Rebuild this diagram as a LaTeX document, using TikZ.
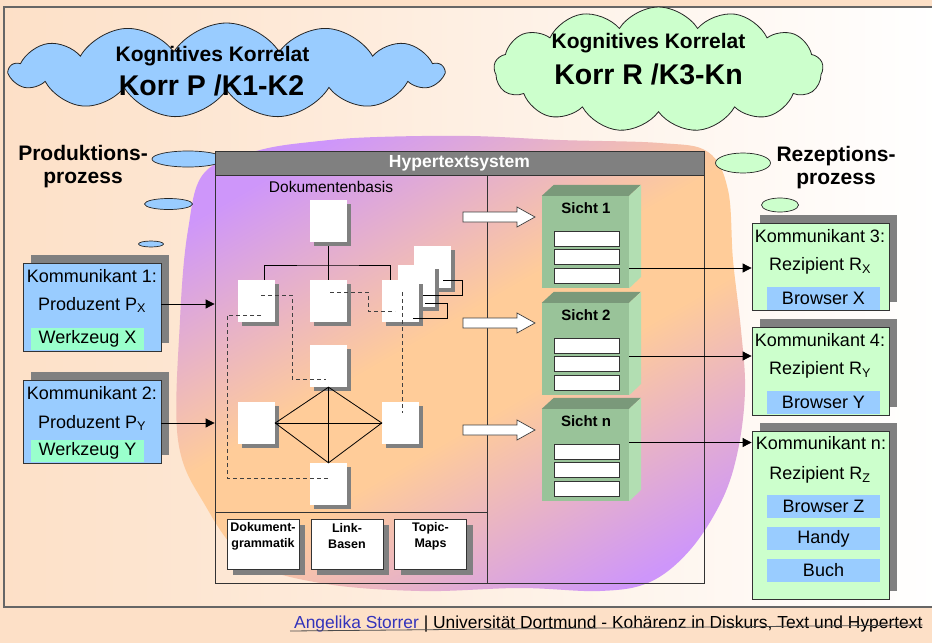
\documentclass[tikz,border=0pt]{standalone}
\usepackage{fontspec}
\setmainfont{Liberation Sans}
\usetikzlibrary{shapes.symbols,shapes.geometric,arrows.meta}
\usepackage{color}
\definecolor{pfirsich}{RGB}{253,224,199}
\definecolor{hellblau}{RGB}{153,204,255}
\definecolor{hellgruen}{RGB}{204,255,204}
\definecolor{tuerkis}{RGB}{153,255,204}
\definecolor{schatten}{RGB}{128,128,128}
\definecolor{lila}{RGB}{206,150,250}
\definecolor{orange1}{RGB}{255,204,153}
\definecolor{sichtvorn}{RGB}{153,195,153}
\definecolor{sichtoben}{RGB}{122,153,122}
\definecolor{sichtseite}{RGB}{178,222,178}
\definecolor{linkblau}{RGB}{51,51,187}

\pgfdeclarehorizontalshading{blobshade}{100bp}{color(0bp)=(lila); color(24bp)=(lila); color(46bp)=(orange1); color(56bp)=(orange1); color(78bp)=(lila); color(100bp)=(lila)}

\tikzset{
  wolke/.style={cloud, cloud puffs=13, cloud puff arc=115, draw=black!85, line width=0.8pt, inner sep=0},
  wolketext/.style={font=\fontsize{21}{24}\selectfont\bfseries, inner sep=0},
  wolkegross/.style={font=\fontsize{28.5}{32}\selectfont\bfseries, inner sep=0},
  blase/.style={ellipse, draw=black!85, line width=0.7pt, inner sep=0},
  prozess/.style={font=\fontsize{21}{23}\selectfont\bfseries, align=center, inner sep=0},
  komm/.style={draw=black!80, line width=0.8pt, inner sep=0},
  ktext/.style={font=\fontsize{18}{20}\selectfont, inner sep=0},
  werkzeug/.style={fill=tuerkis, minimum width=113, minimum height=22, inner sep=0, font=\fontsize{18}{20}\selectfont},
  browser/.style={fill=hellblau, minimum width=113, minimum height=23, inner sep=0, font=\fontsize{18}{20}\selectfont},
  dok/.style={fill=white, minimum width=37, minimum height=42, inner sep=0},
  basis/.style={draw=black!80, line width=0.8pt, fill=white, minimum width=72, minimum height=50, inner sep=0},
  basistext/.style={font=\fontsize{12.5}{16}\selectfont\bfseries, align=center, inner sep=0},
  sicht/.style={fill=sichtvorn, minimum width=87, minimum height=92, inner sep=0},
  sichttext/.style={font=\fontsize{15}{17}\selectfont\bfseries, inner sep=0},
  leiste/.style={draw=black!80, line width=0.7pt, fill=white, minimum width=65, minimum height=15, inner sep=0},
  pfeilblock/.style={fill=white, draw=black!75, line width=0.7pt},
  verb/.style={draw=black, line width=0.8pt, -{Triangle[length=9pt,width=9pt]}},
  baum/.style={draw=black, line width=0.8pt},
  link/.style={draw=black!75, line width=0.8pt, dash pattern=on 4pt off 3pt},
  rahmen/.style={draw=black!80, line width=0.8pt, minimum width=489, minimum height=408, inner sep=0},
}

\begin{document}
\begin{tikzpicture}[x=1pt,y=-1pt]
\useasboundingbox (0,0) rectangle (932,643);
%
% Hintergrund
\fill[pfirsich] (0,0) rectangle (932,643);
\draw[draw=black!60, line width=1.2pt, left color=pfirsich, right color=white] (4,7) rectangle (940,607);
%
% Blob hinter dem Hypertextsystem
\shade[shading=blobshade, shading angle=-60]
  plot[smooth cycle, tension=0.6] coordinates {(377,137) (470,136) (560,140) (660,143) (708,152) (728,190)
  (733,260) (741,330) (745,390) (738,450) (722,500) (690,550) (650,582) (600,591) (520,588) (420,591)
  (320,583) (248,560) (205,505) (178,440) (180,320) (188,230) (205,172) (260,150) (320,141)};
%
% Wolken
\node[wolke, fill=hellblau, minimum width=433, minimum height=95] (wolkeP) at (226.5,70.5) {};
\node[wolketext] (wolkeP1) at (212.5,56) {Kognitives Korrelat};
\node[wolkegross] (wolkeP2) at (211.5,85) {Korr P /K1-K2};
\node[wolke, fill=hellgruen, minimum width=329, minimum height=125] (wolkeR) at (658.5,69.5) {};
\node[wolketext] (wolkeR1) at (648.5,43) {Kognitives Korrelat};
\node[wolkegross] (wolkeR2) at (648.5,74) {Korr R /K3-Kn};
%
% Denkblasen
\node[blase, fill=hellblau, minimum width=72, minimum height=16] (bp1) at (188,159) {};
\node[blase, fill=hellblau, minimum width=48, minimum height=11] (bp2) at (168.5,204) {};
\node[blase, fill=hellblau, minimum width=25, minimum height=6] (bp3) at (151,244) {};
\node[blase, fill=hellgruen, minimum width=55, minimum height=20] (br1) at (743,163) {};
\node[blase, fill=hellgruen, minimum width=37, minimum height=14] (br2) at (780,205) {};
\node[prozess] (prod) at (83,167) {Produktions-\\prozess};
\node[prozess] (rez) at (836,168) {Rezeptions-\\prozess};
%
% Hypertextsystem
\node[rahmen] (hts) at (459.5,379) {};
\node[draw=black!80, line width=0.8pt, fill=schatten, minimum width=489, minimum height=24, inner sep=0,
  text=white, font=\fontsize{17.5}{20}\selectfont\bfseries] (kopf) at (459.5,163) {Hypertextsystem};
\coordinate (teil) at (487,175);
\coordinate (sockel) at (215,512);
\draw[draw=black!80, line width=0.8pt] (teil) -- (teil |- hts.south);
\draw[draw=black!80, line width=0.8pt] (sockel) -- (sockel -| teil);
\node[font=\fontsize{15.5}{18}\selectfont, inner sep=0] (dokbasis) at (331,187) {Dokumentenbasis};
%
% Baum
\coordinate (tj) at (328.5,265);
\draw[baum] (328.5,242) -- (tj);
\draw[baum] (264,280) |- (tj) -| (390,280);
\draw[baum] (tj) -- (328.5,280);
%
% Dokumente (mit Schatten)
\foreach \nm/\x/\y in {d0/328.5/221, d3c/432/267, d3b/416.5/286, d1/256.5/301, d2/328.5/301,
                       d3/400.5/301, d4/328.5/366, d5/256.5/423, d6/400.5/423, d7/328.5/484}{
  \fill[schatten] (\x-14.5,\y-17) rectangle (\x+22.5,\y+25);
  \node[dok] (\nm) at (\x,\y) {};
}
%
% Raute
\draw[baum] (d4.south) -- (d5.east) -- (d7.north) -- (d6.west) -- cycle;
\draw[baum] (d4.south) -- (d7.north);
\draw[baum] (d5.east) -- (d6.west);
%
% Stapel
\draw[baum] ([shift={(11,13)}]d3c.center) -- ++(19,0) |- ([shift={(6.5,9)}]d3b.center);
\draw[baum] ([shift={(8.5,17)}]d3b.center) -- ++(22,0) |- ([shift={(12.5,17)}]d3.center);
%
% Links
\draw[link] ([shift={(4.5,-6)}]d1.center) -| ([shift={(-36.5,13)}]d4.center) -- ([shift={(-2.5,13)}]d4.center);
\draw[link] ([shift={(4.5,14)}]d1.center) -- ++(-34,0) |- ([shift={(0.5,-6)}]d7.center);
\draw[link] ([shift={(1.5,-9)}]d2.center) -- ++(38,0) |- ([shift={(-5.5,10)}]d3.center);
\draw[link] ([shift={(1.5,-9)}]d3.center) -- ([shift={(1.5,-10)}]d6.center);
%
% Basis
\foreach \nm/\x/\txt in {b1/263/Dokument-\\grammatik, b2/347/Link-\\Basen, b3/430.5/Topic-\\Maps}{
  \fill[schatten] (\x-30,525) rectangle (\x+42,575);
  \node[basis] (\nm) at (\x,544) {};
  \node[basistext] at (\x,536) {\txt};
}
%
% Blockpfeile
\foreach \y in {217,323,430}
  \draw[pfeilblock] (463,\y-5) -- (517,\y-5) -- (517,\y-10) -- (535,\y) -- (517,\y+10) -- (517,\y+5) -- (463,\y+5) -- cycle;
%
% Sichten
\foreach \nm/\y/\lab in {s1/196/Sicht 1, s2/303/Sicht 2, sn/409/Sicht n}{
  \node[sicht] (\nm) at (585.5,\y+46) {};
  \fill[sichtoben] (\nm.north west) -- ++(12,-11) -- ++(87,0) -- (\nm.north east) -- cycle;
  \fill[sichtseite] (\nm.north east) -- ++(12,-11) -- ++(0,92) -- (\nm.south east) -- cycle;
  \node[sichttext] at (586,\y+12) {\lab};
  \foreach \dy in {35,53,72}
    \node[leiste] at (586.5,\y+\dy+7.5) {};
}
%
% Schatten der Kommunikanten
\fill[schatten] (31,255) rectangle (169,343);
\fill[schatten] (31,372) rectangle (169,455);
\fill[schatten] (760,215) rectangle (897,302);
\fill[schatten] (760,319) rectangle (897,407);
\fill[schatten] (760,423) rectangle (897,591);
%
% Kommunikanten links
\node[komm, fill=hellblau, minimum width=138, minimum height=88] (k1) at (92,307) {};
\node[ktext] (k1a) at (92,276) {Kommunikant 1:};
\node[ktext] (k1b) at (92,305) {Produzent P\textsubscript{X}};
\node[werkzeug] (w1) at (87.5,339) {Werkzeug X};
\node[komm, fill=hellblau, minimum width=138, minimum height=83] (k2) at (92,421.5) {};
\node[ktext] (k2a) at (92,393) {Kommunikant 2:};
\node[ktext] (k2b) at (92,423) {Produzent P\textsubscript{Y}};
\node[werkzeug] (w2) at (87.5,451) {Werkzeug Y};
%
% Kommunikanten rechts
\node[komm, fill=hellgruen, minimum width=137, minimum height=87] (k3) at (820.5,266.5) {};
\node[ktext] (k3a) at (820,236) {Kommunikant 3:};
\node[ktext] (k3b) at (820,266) {Rezipient R\textsubscript{X}};
\node[browser] (r3) at (823.5,298.5) {Browser X};
\node[komm, fill=hellgruen, minimum width=137, minimum height=88] (k4) at (820.5,371) {};
\node[ktext] (k4a) at (820,340) {Kommunikant 4:};
\node[ktext] (k4b) at (820,370) {Rezipient R\textsubscript{Y}};
\node[browser] (r4) at (823.5,402) {Browser Y};
\node[komm, fill=hellgruen, minimum width=137, minimum height=168] (kn) at (820.5,515) {};
\node[ktext] (kna) at (821,443) {Kommunikant n:};
\node[ktext] (knb) at (820,475) {Rezipient R\textsubscript{Z}};
\node[browser] (rn1) at (823.5,506.5) {Browser Z};
\node[browser] (rn2) at (823.5,538.5) {Handy};
\node[browser] (rn3) at (823.5,570.5) {Buch};
%
% Verbindungen
\draw[verb] ([yshift=3pt]k1.east) -- ([yshift=3pt]k1.east -| hts.west);
\draw[verb] ([yshift=-1.5pt]k2.east) -- ([yshift=-1.5pt]k2.east -| hts.west);
\draw[verb] ([yshift=-26pt]s1.east) -- ([yshift=-26pt]s1.east -| k3.west);
\draw[verb] ([yshift=-7pt]s2.east) -- ([yshift=-7pt]s2.east -| k4.west);
\draw[verb] ([yshift=12.5pt]sn.east) -- ([yshift=12.5pt]sn.east -| kn.west);
%
% Fusszeile
\node[anchor=base west, inner sep=0, font=\fontsize{17.4}{20}\selectfont] (fuss) at (294,628)
  {\textcolor{linkblau}{Angelika Storrer} | Universität Dortmund - Kohärenz in Diskurs, Text und Hypertext};
\draw[draw=black!70, line width=0.8pt] ([shift={(-4,3)}]fuss.base west) -- ([yshift=3pt]fuss.base east);
\end{tikzpicture}
\end{document}
